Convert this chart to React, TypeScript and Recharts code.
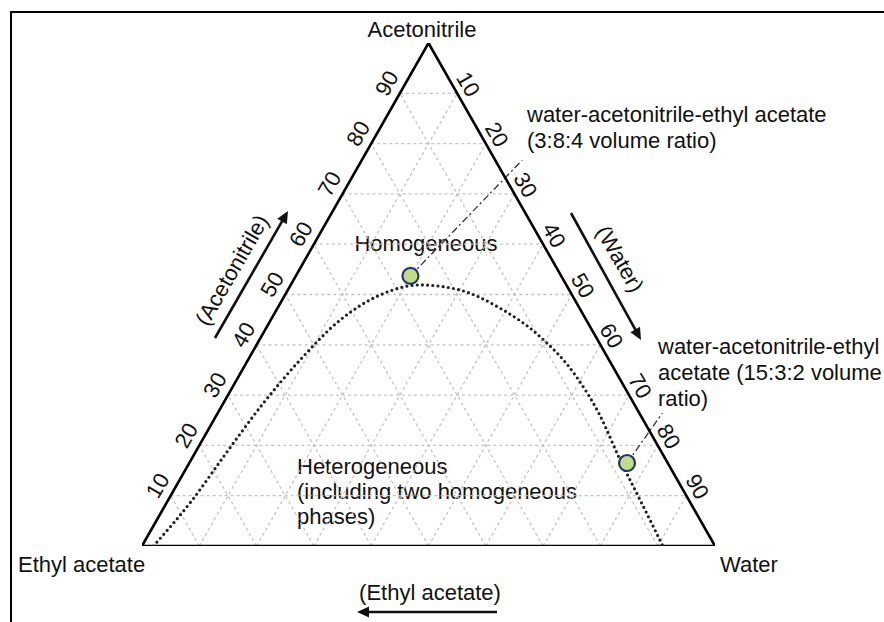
import { ComposedChart, Line, Scatter, XAxis, YAxis, ReferenceLine, Customized } from 'recharts';

const TICKS = [10, 20, 30, 40, 50, 60, 70, 80, 90];

// corners of the triangle, as water / acetonitrile %
const CORNER_WATER = [0, 0, 100, 0];
const CORNER_ACN = [0, 100, 0, 0];

// binodal curve
const CURVE_WATER = [2, 4.2, 5.4, 6.9, 9.1, 12.1, 16.6, 22.5, 30, 38.8, 48.7, 58.6, 66.9, 74.9, 82.4, 90.9];
const CURVE_ACN = [0, 9.1, 18.1, 28, 37, 44.9, 49.9, 51.9, 50.9, 47.3, 41.6, 34, 26, 17.1, 9.1, 0];

// the two solvent systems and where their leader lines end
const POINT_WATER = [20, 76.4];
const POINT_ACN = [53.7, 16.5];
const LEADER_WATER = [28, 77.6];
const LEADER_ACN = [76.7, 26.4];

const FONT = '"Liberation Sans", Arial, sans-serif';
const FS = 22;

// ternary (water, acetonitrile) -> cartesian
const uv = (w: number, a: number) => ({ u: w + a / 2, v: a });

const triangle = CORNER_WATER.map((w, i) => uv(w, CORNER_ACN[i]));
const curve = CURVE_WATER.map((w, i) => uv(w, CURVE_ACN[i]));
const points = POINT_WATER.map((w, i) => uv(w, POINT_ACN[i]));
const leaders = POINT_WATER.map((w, i) => [uv(w, POINT_ACN[i]), uv(LEADER_WATER[i], LEADER_ACN[i])]);

const leftTicks = TICKS.map((k) => ({ ...uv(0, k), t: k }));
const rightTicks = TICKS.map((k) => ({ ...uv(k, 100 - k), t: k }));
const bottomTicks = TICKS.map((k) => ({ ...uv(100 - k, 0), t: k }));

const grid: { u: number; v: number }[][] = [];
TICKS.forEach((k) => {
  grid.push([uv(0, k), uv(100 - k, k)]);
  grid.push([uv(k, 0), uv(k, 100 - k)]);
  grid.push([uv(100 - k, 0), uv(0, 100 - k)]);
});

function tickShape(dx: number, dy: number, rot: number) {
  return (p: any) => {
    const x = p.cx + dx;
    const y = p.cy + dy;
    return (
      <text x={x} y={y} textAnchor="middle" dominantBaseline="central" fontSize={FS} fontFamily={FONT} fill="#111"
        transform={rot ? `rotate(${rot} ${x} ${y})` : undefined}>
        {p.payload.t}
      </text>
    );
  };
}

function Dot(p: any) {
  return <circle cx={p.cx} cy={p.cy} r={8} fill="#c3da8c" stroke="#1d3a6b" strokeWidth={2.2} />;
}

function Arrow({ x1, y1, x2, y2 }: { x1: number; y1: number; x2: number; y2: number }) {
  const len = Math.hypot(x2 - x1, y2 - y1);
  const ux = (x2 - x1) / len;
  const uy = (y2 - y1) / len;
  const hl = 12;
  const hw = 5.5;
  const bx = x2 - ux * hl;
  const by = y2 - uy * hl;
  return (
    <g>
      <line x1={x1} y1={y1} x2={bx + ux * 2} y2={by + uy * 2} stroke="#111" strokeWidth={2.6} />
      <polygon points={`${x2},${y2} ${bx - uy * hw},${by + ux * hw} ${bx + uy * hw},${by - ux * hw}`} fill="#111" />
    </g>
  );
}

function Annotations() {
  const t = { fontSize: FS, fontFamily: FONT, fill: '#111' };
  return (
    <g>
      <text x={422} y={29} textAnchor="middle" dominantBaseline="central" {...t}>Acetonitrile</text>
      <text x={18} y={564} dominantBaseline="central" {...t}>Ethyl acetate</text>
      <text x={720} y={564} dominantBaseline="central" {...t}>Water</text>
      <text x={430} y={592} textAnchor="middle" dominantBaseline="central" {...t}>(Ethyl acetate)</text>
      <Arrow x1={497} y1={612} x2={357} y2={612} />
      <text x={232} y={270} textAnchor="middle" dominantBaseline="central" {...t} transform="rotate(-60 232 270)">(Acetonitrile)</text>
      <Arrow x1={215} y1={338} x2={288} y2={211} />
      <text x={620} y={259} textAnchor="middle" dominantBaseline="central" {...t} transform="rotate(60 620 259)">(Water)</text>
      <Arrow x1={571} y1={213} x2={641} y2={340} />
      <text x={426} y={243} textAnchor="middle" dominantBaseline="central" {...t}>Homogeneous</text>
      <text x={297} y={466} dominantBaseline="central" {...t}>Heterogeneous</text>
      <text x={297} y={491} dominantBaseline="central" {...t}>(including two homogeneous</text>
      <text x={297} y={516} dominantBaseline="central" {...t}>phases)</text>
      <text x={527} y={114} dominantBaseline="central" {...t}>water-acetonitrile-ethyl acetate</text>
      <text x={527} y={140} dominantBaseline="central" {...t}>(3:8:4 volume ratio)</text>
      <text x={658} y={346} dominantBaseline="central" {...t}>water-acetonitrile-ethyl</text>
      <text x={658} y={372} dominantBaseline="central" {...t}>acetate (15:3:2 volume</text>
      <text x={658} y={398} dominantBaseline="central" {...t}>ratio)</text>
    </g>
  );
}

export default function App() {
  return (
    <div style={{ position: 'absolute', left: 0, top: 0, width: 884, height: 622, overflow: 'hidden', background: '#fff', fontFamily: FONT }}>
      <div style={{ position: 'absolute', left: 10, top: 11, width: 1000, height: 1000, border: '2.5px solid #000' }} />
      <div style={{ position: 'absolute', left: 0, top: 0 }}>
        <ComposedChart width={884} height={622} margin={{ top: 43, right: 169, bottom: 76, left: 142 }}>
          <XAxis type="number" dataKey="u" domain={[0, 100]} hide allowDataOverflow />
          <YAxis type="number" dataKey="v" domain={[0, 100]} hide allowDataOverflow />
          {grid.map((seg, i) => (
            <ReferenceLine key={i} segment={[{ x: seg[0].u, y: seg[0].v }, { x: seg[1].u, y: seg[1].v }]}
              stroke="#c4c4c4" strokeWidth={1.3} strokeDasharray="3 3" ifOverflow="visible" />
          ))}
          {leaders.map((seg, i) => (
            <ReferenceLine key={'l' + i} segment={[{ x: seg[0].u, y: seg[0].v }, { x: seg[1].u, y: seg[1].v }]}
              stroke="#333" strokeWidth={1.3} strokeDasharray="7 3 2 3" ifOverflow="visible" />
          ))}
          <Line data={triangle} dataKey="v" type="linear" stroke="#000" strokeWidth={2.6} dot={false} isAnimationActive={false} />
          <Line data={curve} dataKey="v" type="monotone" stroke="#222" strokeWidth={3.2} strokeDasharray="0 5.2"
            strokeLinecap="round" dot={false} isAnimationActive={false} />
          <Scatter data={points} shape={Dot} isAnimationActive={false} />
          <Scatter data={leftTicks} shape={tickShape(-13, -10, -60)} isAnimationActive={false} />
          <Scatter data={rightTicks} shape={tickShape(11, -9, 60)} isAnimationActive={false} />
          <Scatter data={bottomTicks} shape={tickShape(0, 20, 0)} isAnimationActive={false} />
          <Customized component={Annotations} />
        </ComposedChart>
      </div>
    </div>
  );
}
